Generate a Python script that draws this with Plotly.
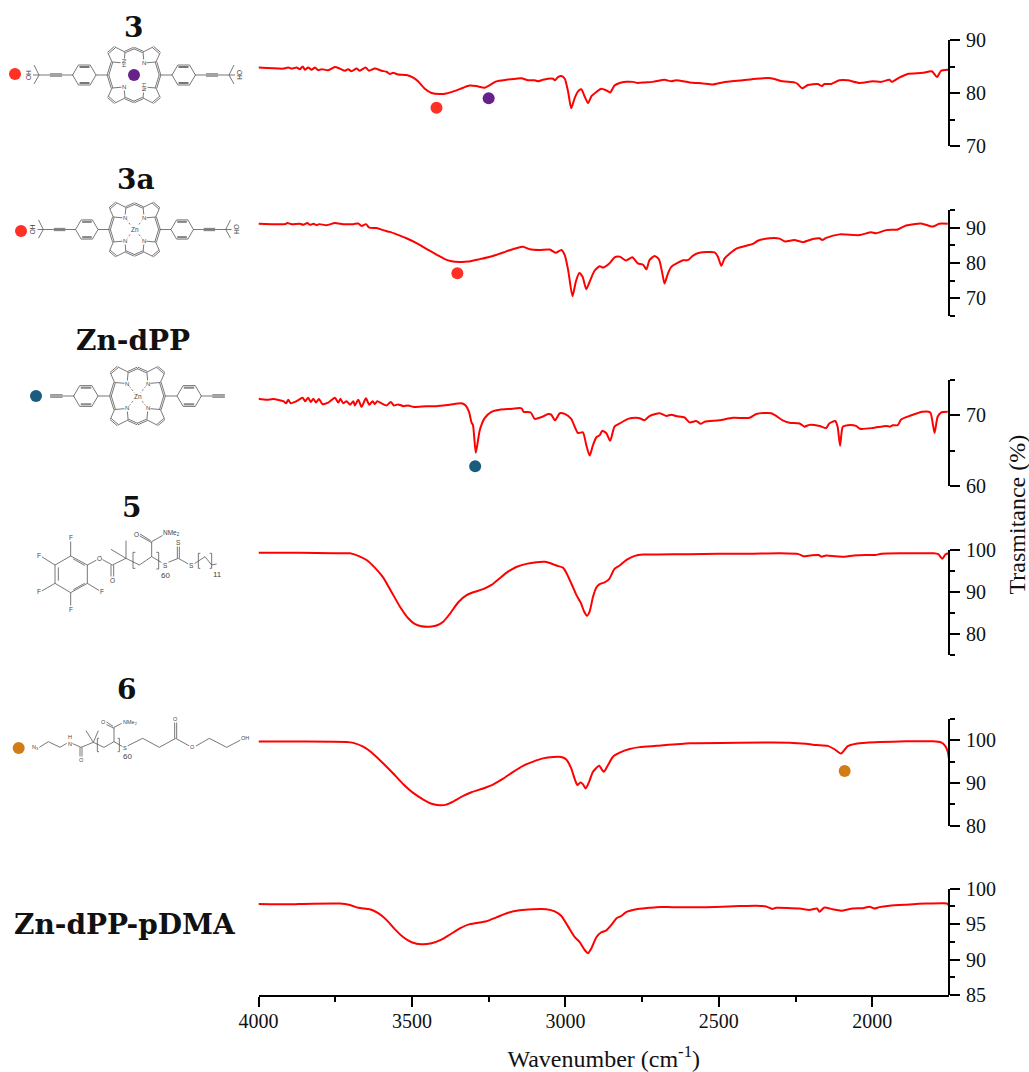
import plotly.graph_objects as go

W, H = 1029, 1072
# ---------- data: wavenumber (cm-1) and transmittance (%) ----------
wn_3 = [4000,3919,3903,3892,3876,3865,3856,3849,3838,3827,3816,3805,3794,3773,3751,3735,3718,3708,3697,3680,3670,3651,3640,3621,3599,3583,3572,3561,3545,3518,3496,3480,3458,3436,3409,3388,3360,3333,3312,3290,3263,3246,3225,3192,3160,3143,3122,3100,3089,3073,3040,3034,3024,3013,3002,2991,2981,2970,2959,2948,2937,2926,2915,2899,2883,2867,2854,2840,2823,2802,2780,2764,2742,2715,2677,2655,2639,2595,2552,2519,2487,2422,2378,2330,2292,2254,2243,2229,2210,2178,2164,2156,2134,2107,2080,2042,1999,1971,1944,1936,1912,1885,1836,1806,1789,1776,1754,1749]
t_3 = [84.8,84.6,84.8,84.6,84.8,84.5,85.0,84.4,84.8,84.4,84.8,84.3,84.5,84.3,84.9,84.6,84.2,84.5,84.1,84.6,84.2,84.8,84.2,84.6,84.2,84.0,83.6,83.8,83.5,83.4,82.9,82.2,80.8,80.0,79.8,79.9,80.4,81.0,81.4,81.3,81.0,81.5,82.2,82.5,82.7,82.8,82.4,82.4,82.2,82.5,82.7,82.4,83.0,83.2,82.7,80.2,77.1,79.0,80.3,80.7,79.3,78.1,79.4,80.2,80.8,80.5,80.1,81.4,81.9,82.1,82.1,81.9,82.0,82.1,82.5,82.2,82.4,82.0,81.8,81.6,82.0,82.4,82.7,82.8,82.2,82.0,81.7,80.9,81.5,81.7,81.3,81.7,81.7,82.4,82.4,81.9,82.2,82.1,82.5,82.1,82.9,83.6,83.8,84.1,83.0,84.2,84.4,84.4]

wn_3a = [4000,3914,3906,3892,3865,3854,3841,3832,3821,3811,3802,3778,3751,3724,3691,3675,3664,3650,3639,3615,3594,3572,3550,3518,3485,3453,3420,3393,3371,3344,3317,3279,3236,3192,3160,3138,3116,3084,3051,3032,3013,3002,2991,2977,2966,2955,2944,2932,2921,2905,2888,2878,2856,2840,2823,2802,2782,2764,2747,2736,2726,2709,2695,2684,2677,2666,2655,2633,2617,2601,2584,2563,2514,2503,2492,2481,2443,2389,2373,2335,2302,2284,2254,2226,2194,2172,2163,2150,2107,2042,2004,1988,1955,1917,1890,1841,1803,1782,1754]
t_3a = [91.1,91.0,91.3,91.0,91.1,90.8,91.3,90.8,91.1,90.7,91.0,90.7,91.3,91.0,91.0,91.2,90.5,91.0,90.0,89.9,89.3,88.8,88.1,87.0,85.6,84.0,82.4,81.1,80.5,80.3,80.4,81.1,82.0,83.3,84.2,84.6,83.9,83.7,83.8,82.9,83.7,82.2,78.0,70.6,74.7,77.2,76.1,72.6,74.7,77.8,79.1,78.7,79.9,81.6,81.8,80.7,81.6,79.9,79.5,78.2,80.8,82.0,81.0,77.0,74.2,77.0,78.9,80.1,80.8,80.8,82.1,82.9,83.0,81.8,79.2,81.3,84.1,85.4,86.3,87.0,86.9,86.1,86.5,85.9,86.8,87.0,86.5,87.1,88.1,87.9,88.7,88.4,89.3,89.5,90.6,91.2,90.3,91.1,91.1]

wn_zn = [4000,3973,3952,3919,3910,3903,3895,3881,3865,3856,3848,3838,3830,3821,3813,3803,3792,3773,3751,3740,3733,3724,3713,3702,3691,3686,3675,3664,3650,3639,3628,3621,3613,3599,3583,3569,3559,3545,3528,3512,3496,3453,3420,3377,3339,3325,3314,3306,3301,3292,3279,3263,3241,3214,3181,3143,3136,3113,3100,3078,3056,3046,3034,3018,3002,2981,2959,2943,2932,2921,2910,2899,2888,2880,2867,2854,2840,2823,2796,2769,2758,2742,2726,2693,2671,2655,2639,2612,2595,2574,2559,2546,2498,2454,2400,2378,2329,2292,2270,2237,2221,2205,2172,2150,2140,2121,2113,2105,2096,2080,2053,2040,1999,1955,1942,1933,1917,1906,1879,1836,1811,1803,1797,1787,1776,1754]
t_zn = [72.35,72.2,72.3,72.0,71.7,72.2,71.7,71.9,72.3,72.5,72.0,72.5,71.9,72.35,71.8,72.3,71.6,71.8,72.5,71.8,72.35,71.7,72.0,71.5,72.0,71.4,72.2,71.2,72.4,71.5,72.0,71.6,72.0,71.7,71.4,71.9,71.4,71.55,71.3,71.4,71.2,71.3,71.3,71.5,71.7,71.4,70.5,69.0,68.6,64.7,67.9,69.6,70.5,70.8,70.9,71.0,70.5,70.4,69.5,69.75,70.2,70.1,69.3,70.3,70.2,69.5,67.5,67.6,65.8,64.3,65.8,66.9,67.2,67.8,67.5,66.4,68.4,68.85,69.5,69.65,69.6,69.3,69.9,70.3,69.9,70.1,69.9,69.7,69.0,69.2,68.8,69.1,69.3,69.65,69.65,70.2,70.3,69.3,68.95,68.85,68.4,68.65,68.5,68.2,68.85,69.2,68.4,65.7,68.4,68.6,68.5,68.1,68.2,68.5,68.4,68.6,68.6,69.4,69.9,70.5,70.4,68.85,67.5,69.8,70.4,70.5]

wn_5 = [4000,3865,3756,3702,3675,3648,3621,3594,3567,3539,3512,3491,3469,3442,3420,3398,3377,3349,3322,3295,3268,3241,3214,3187,3160,3127,3094,3067,3046,3029,3008,2997,2981,2964,2950,2939,2930,2921,2910,2899,2888,2872,2858,2840,2823,2802,2774,2747,2700,2600,2500,2400,2300,2240,2225,2200,2175,2165,2150,2120,2090,2060,2020,1990,1970,1900,1840,1800,1785,1772,1762,1752]
t_5 = [99.25,99.25,99.1,99.1,98.5,97.5,95.7,93.4,90.0,86.45,83.7,82.35,81.8,81.7,82.0,82.9,84.7,87.5,89.2,90.0,90.6,91.6,93.2,94.75,95.85,96.6,97.0,97.1,96.7,96.2,95.7,94.5,92.0,89.2,87.4,85.3,84.3,85.3,88.8,91.0,91.8,92.2,92.9,95.4,96.2,97.5,98.5,98.8,98.8,98.9,99.0,99.0,99.1,98.9,98.4,98.6,98.7,98.3,98.6,98.4,98.3,98.6,98.7,98.7,99.0,99.1,99.1,99.1,98.9,97.8,98.8,99.1]

wn_6 = [4000,3865,3713,3691,3659,3626,3594,3561,3528,3496,3463,3436,3409,3388,3366,3333,3306,3268,3236,3203,3170,3138,3105,3073,3040,3013,2997,2981,2970,2961,2951,2943,2934,2923,2910,2890,2875,2861,2845,2823,2791,2758,2704,2595,2433,2270,2216,2183,2145,2123,2102,2080,2053,2020,1977,1890,1803,1776,1762,1754,1749]
t_6 = [99.7,99.7,99.6,99.4,98.5,96.8,94.6,92.2,89.7,87.65,86.1,85.1,84.75,84.9,85.6,86.95,87.8,88.7,89.6,91.0,92.6,94.0,95.0,95.75,96.1,96.1,95.5,93.4,91.0,89.5,90.1,89.7,88.7,90.2,92.6,94.0,92.6,94.2,96.15,97.1,97.95,98.4,98.7,99.3,99.45,99.45,99.2,98.9,98.7,97.9,96.9,98.65,99.2,99.45,99.6,99.75,99.75,99.5,98.65,97.3,95.0]

wn_pdma = [4000,3887,3854,3735,3702,3675,3637,3610,3583,3556,3528,3501,3469,3436,3404,3377,3344,3312,3257,3225,3187,3149,3105,3062,3035,3013,2991,2970,2954,2937,2926,2915,2899,2883,2867,2850,2834,2818,2802,2769,2726,2704,2650,2541,2433,2378,2346,2326,2313,2237,2205,2180,2172,2156,2129,2102,2064,2031,2009,1993,1977,1944,1890,1825,1765,1754,1749]
t_pdma = [97.85,97.8,97.85,97.9,97.7,97.3,97.1,96.55,95.6,94.3,93.15,92.45,92.15,92.3,92.8,93.5,94.4,95.0,95.4,95.95,96.6,96.95,97.1,97.1,96.8,96.15,94.65,93.2,92.5,91.35,90.9,91.6,93.15,93.85,94.1,94.9,95.8,96.15,96.7,97.1,97.3,97.4,97.4,97.4,97.55,97.6,97.5,97.15,97.3,97.2,97.0,97.2,96.75,97.35,97.1,96.9,97.2,97.25,97.45,97.2,97.4,97.6,97.75,97.9,97.95,97.85,97.4]

series = [(wn_3, t_3), (wn_3a, t_3a), (wn_zn, t_zn), (wn_5, t_5), (wn_6, t_6), (wn_pdma, t_pdma)]
y_ranges = [(70, 90), (65, 95), (60, 75), (75, 100), (80, 105), (85, 100)]
y_first_tick = [70, 70, 60, 80, 80, 85]
y_major = [10, 10, 10, 10, 10, 5]
y_minor = [5, 5, 5, 5, 5, 2.5]
x_ticks = [4000, 3500, 3000, 2500, 2000]

# band markers: panel index, wavenumber, transmittance, colour
RED, PURPLE, TEAL, ORANGE = "#ff3124", "#66218a", "#1a5b7e", "#d27c17"
band_dots = [(1, 3420, 77.2, RED), (1, 3250, 79.0, PURPLE), (2, 3352, 77.1, RED), (3, 3294, 62.8, TEAL), (5, 2090, 92.8, ORANGE)]

# ---------- layout geometry ----------
PLOT_L, PLOT_R = 258.5, 949.0
panel_px = [(40, 146), (210, 316), (380, 486), (549.5, 655), (719, 825.5), (888.7, 995)]
SERIF = "Liberation Serif"
def yname(i):
    return "y" if i == 1 else f"y{i}"
def ykey(i):
    return "yaxis" if i == 1 else f"yaxis{i}"
fig = go.Figure()
layout = dict(
    width=W, height=H, margin=dict(l=0, r=0, t=0, b=0, autoexpand=False), showlegend=False,
    paper_bgcolor="white", plot_bgcolor="rgba(0,0,0,0)", hovermode=False,
    font=dict(family=SERIF, size=20, color="#111"),
    xaxis=dict(domain=[PLOT_L / W, PLOT_R / W], range=[4000, 1750], anchor="y6", tickvals=x_ticks,
               ticks="outside", ticklen=10, tickwidth=2, tickcolor="black", showline=True, linewidth=2,
               linecolor="black", showgrid=False, zeroline=False, ticklabelstandoff=-3,
               minor=dict(tickvals=[3750, 3250, 2750, 2250], ticks="outside", ticklen=5, tickwidth=2, tickcolor="black"),
               tickfont=dict(size=20), title=dict(text="Wavenumber (cm<sup>-1</sup>)", font=dict(size=24), standoff=20)),
    xaxis2=dict(domain=[0, 1], range=[0, W], visible=False, anchor="y7"),
    yaxis7=dict(domain=[0, 1], range=[H, 0], visible=False, anchor="x2"),
)
for i, (rng, (top, bot), first, maj, mnr) in enumerate(zip(y_ranges, panel_px, y_first_tick, y_major, y_minor), start=1):
    layout[ykey(i)] = dict(
        domain=[1 - bot / H, 1 - top / H], range=list(rng), anchor="free", position=PLOT_R / W, side="right",
        tick0=first, dtick=maj, ticks="outside", ticklen=10, tickwidth=2, tickcolor="black", ticklabelstandoff=2,
        showline=True, linewidth=2, linecolor="black", showgrid=False, zeroline=False, tickfont=dict(size=20),
        minor=dict(tick0=rng[0], dtick=mnr, ticks="outside", ticklen=5, tickwidth=2, tickcolor="black"))
    fig.add_trace(go.Scatter(x=series[i - 1][0], y=series[i - 1][1], mode="lines", xaxis="x", yaxis=yname(i),
                             line=dict(color="#ff0000", width=2, shape="spline", smoothing=0.6), hoverinfo="skip"))
for p, w, t, c in band_dots:
    fig.add_trace(go.Scatter(x=[w], y=[t], mode="markers", xaxis="x", yaxis=yname(p), hoverinfo="skip",
                             marker=dict(color=c, size=12, line=dict(width=0))))

# ---------- schematic molecule drawings (decoration, drawn on a full-figure pixel axis) ----------
segs, dashed, notes = [], [], []
def seg(a, b):
    segs.append(a); segs.append(b); segs.append((None, None))
def chain(*pts):
    for a, b in zip(pts, pts[1:]):
        seg(a, b)
def dbl(a, b, off=1.1):
    dx, dy = b[0] - a[0], b[1] - a[1]
    n = (dx * dx + dy * dy) ** .5
    ox, oy = -dy / n * off, dx / n * off
    seg((a[0] + ox, a[1] + oy), (b[0] + ox, b[1] + oy))
    seg((a[0] - ox, a[1] - oy), (b[0] - ox, b[1] - oy))
def label(x, y, s, size=6.5, ang=0, color="#444"):
    notes.append(dict(x=x, y=y, xref="x2", yref="y7", text=s, showarrow=False, textangle=ang,
                      font=dict(size=size, color=color, family="Liberation Sans"), bgcolor="white", borderpad=0))

def porphyrin(cx, cy, sc, tail, nh=False, metal=None):
    P = lambda x, y: (cx + x * sc, cy + y * sc)
    for sx in (-1, 1):
        for sy in (-1, 1):
            q = lambda x, y: P(sx * x, sy * y)
            ml, mt = q(26, 0), q(0, 27)
            a1, b1, b2, a2, n = q(22, 13), q(26, 22), q(19, 28), q(9, 23), q(10, 12)
            dbl(ml, a1, .8); chain(a1, b1); dbl(b1, b2, .8); chain(b2, a2); dbl(a2, mt, .8)
            chain(a1, n, a2)
            if metal:
                dashed.append(q(2, 2)); dashed.append(n); dashed.append((None, None))
    if metal:
        label(cx, cy, metal, 6.5)
    lbls = [(-10, -12, "NH" if nh else "N"), (10, -12, "N"), (-10, 12, "N"), (10, 12, "HN" if nh else "N")]
    for x, y, s in lbls:
        label(*P(x, y), s, 6, ang=90 if nh and s != "N" else 0)
    for sx in (-1, 1):
        q = lambda x, y: P(sx * x, y)
        chain(q(26, 0), q(38, 0))
        r = 11.7
        hexv = [q(49.7 + r * c, s) for c, s in ((-1, 0), (-.5, -10), (.5, -10), (1, 0), (.5, 10), (-.5, 10), (-1, 0))]
        chain(*hexv)
        dbl(q(44.5, -8), q(54.5, -8), .5); dbl(q(44.5, 8), q(54.5, 8), .5)
        chain(q(61, 0), q(72, 0))
        seg(q(72, 0), q(84, 0)); seg(q(72, -1.2), q(84, -1.2)); seg(q(72, 1.2), q(84, 1.2))
        if tail:
            chain(q(84, 0), q(95, 0)); chain(q(95, 0), q(100, -10)); chain(q(95, 0), q(100, 9))
            chain(q(95, 0), q(101, 0))
            label(*q(106, 0), "OH", 6.5, ang=90 if sx > 0 else -90)

porphyrin(134, 75, 1.0, True, nh=True)
porphyrin(134.5, 229.5, .96, True, metal="Zn")
porphyrin(137.5, 396, 1.04, False, metal="Zn")

# structures traced in 3x coordinates with origin at (0, 490)
Z = lambda x, y: (x / 3, 490 + y / 3)
def zc(*pts):
    chain(*[Z(*p) for p in pts])
def zlab(x, y, s, size=6.5):
    label(*Z(x, y), s, size)
def zbr(x, y0, y1, d):
    zc((x + d, y0), (x, y0), (x, y1), (x + d, y1))
# compound 5
ring = [(212, 198), (262, 225), (262, 280), (212, 308), (165, 280), (165, 225), (212, 198)]
zc(*ring)
zc((212, 198), (212, 153)); zc((165, 225), (125, 200)); zc((165, 280), (125, 303)); zc((212, 308), (212, 350)); zc((262, 280), (298, 302))
zc((175, 232), (175, 272)); zc((220, 207), (254, 226)); zc((220, 299), (254, 280))
zc((262, 225), (290, 210)); zc((306, 208), (337, 225), (378, 205), (418, 225), (455, 200), (484, 217))
zc((333, 225), (333, 262)); zc((341, 225), (341, 262))
zc((378, 205), (378, 152)); zc((378, 205), (333, 178))
zc((455, 200), (455, 155))
zc((455, 155), (490, 135)); zc((455, 158), (418, 137)); zc((452, 152), (420, 132))
zbr(399, 187, 235, 7); zbr(476, 187, 237, -7)
zc((502, 218), (535, 205), (565, 222)); zc((532, 205), (532, 165)); zc((538, 205), (538, 165))
zbr(595, 190, 235, 6); zc((582, 222), (615, 200), (635, 225), (650, 222)); zbr(635, 190, 235, -6)
for x, y, s in [(212, 143, "F"), (117, 197, "F"), (117, 305, "F"), (212, 358, "F"), (306, 305, "F"), (298, 205, "O"), (337, 270, "O"),
                (410, 132, "O"), (515, 130, "NMe<sub>2</sub>"), (495, 225, "S"), (535, 158, "S"), (574, 225, "S")]:
    zlab(x, y, s)
label(*Z(495, 255), "60", 8, color="#444"); label(*Z(651, 252), "11", 8, color="#444")
# compound 6
zc((118, 772), (145, 755), (180, 772), (200, 760)); zc((216, 760), (243, 772), (280, 757), (312, 772), (342, 755), (368, 770))
zc((240, 772), (240, 802)); zc((246, 772), (246, 802))
zc((280, 757), (258, 722)); zc((280, 757), (295, 722))
zc((342, 755), (342, 712))
zc((342, 712), (365, 700)); zc((342, 715), (316, 702)); zc((339, 709), (318, 695))
zbr(292, 745, 785, 5); zbr(358, 745, 785, -5)
zc((382, 768), (428, 745), (478, 772), (527, 745), (568, 768)); zc((524, 745), (524, 696)); zc((530, 745), (530, 696))
zc((588, 768), (628, 745), (680, 772), (722, 750))
for x, y, s in [(105, 772, "N<sub>3</sub>"), (210, 750, "H<br>N"), (243, 810, "O"), (310, 697, "O"), (390, 697, "NMe<sub>2</sub>"),
                (375, 774, "S"), (527, 688, "O"), (578, 772, "O"), (735, 745, "OH")]:
    zlab(x, y, s, 5.5)
label(*Z(381, 798), "60", 8, color="#444")

fig.add_trace(go.Scatter(x=[p[0] for p in segs], y=[p[1] for p in segs], mode="lines", xaxis="x2", yaxis="y7",
                         line=dict(color="#555", width=.8), hoverinfo="skip"))
fig.add_trace(go.Scatter(x=[p[0] for p in dashed], y=[p[1] for p in dashed], mode="lines", xaxis="x2", yaxis="y7",
                         line=dict(color="#555", width=.8, dash="2px,2px"), hoverinfo="skip"))
side_dots = [(15, 74, RED), (134, 75, PURPLE), (21, 231, RED), (36, 396, TEAL), (18.7, 748, ORANGE)]
fig.add_trace(go.Scatter(x=[d[0] for d in side_dots], y=[d[1] for d in side_dots], mode="markers", xaxis="x2", yaxis="y7",
                         marker=dict(color=[d[2] for d in side_dots], size=12, line=dict(width=0)), hoverinfo="skip"))

# compound names
names = [("3", 133, 27), ("3a", 136, 179), ("Zn-dPP", 133, 340), ("5", 131, 507), ("6", 126, 689), ("Zn-dPP-pDMA", 125, 924)]
for s, x, y in names:
    notes.append(dict(x=x, y=y, xref="x2", yref="y7", text=f"<b>{s}</b>", showarrow=False,
                      font=dict(family="DejaVu Serif", size=28, color="#111")))
notes.append(dict(x=1016.5, y=515, xref="x2", yref="y7", text="Trasmitance (%)", showarrow=False, textangle=-90,
                  font=dict(family=SERIF, size=24, color="#111")))
layout["annotations"] = notes
fig.update_layout(**layout)
fig.write_html("out.html", post_script="document.body.style.margin='0';", config={"displayModeBar": False})
